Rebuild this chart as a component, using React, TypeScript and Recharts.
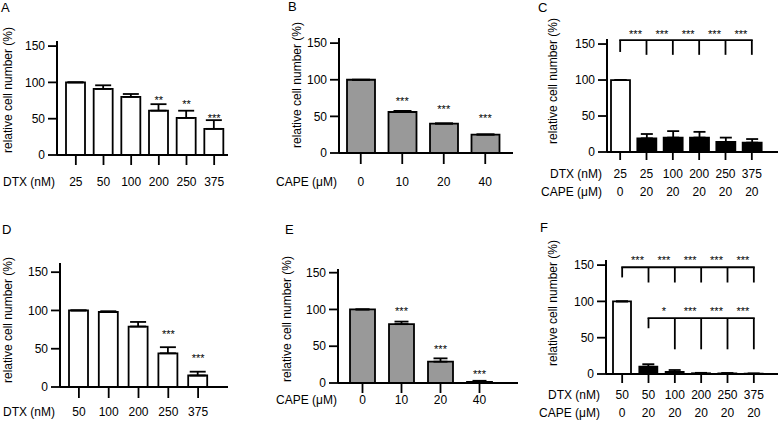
import {
	Bar,
	BarChart,
	Cell,
	ErrorBar,
	Label,
	ReferenceDot,
	ReferenceLine,
	XAxis,
	YAxis,
} from "recharts";

const FONT = '"Liberation Sans", Arial, Helvetica, sans-serif';

// A: DTX alone, first cell line
const dtxA = ["25", "50", "100", "200", "250", "375"];
const valuesA = [100, 91, 80, 61, 51, 36];
const errorsA = [0, 5, 4, 9, 10, 12];
const starsA = ["", "", "", "**", "**", "***"];
const starAtA = [0, 0, 0, 77, 72, 52.5];

// B: CAPE alone, first cell line
const capeB = ["0", "10", "20", "40"];
const valuesB = [100, 56, 40, 25];
const errorsB = [0, 1.5, 0.5, 0.5];
const starsB = ["", "***", "***", "***"];
const starAtB = [0, 72, 61, 49];

// C: DTX + CAPE 20, first cell line
const dtxC = ["25", "25", "100", "200", "250", "375"];
const capeC = ["0", "20", "20", "20", "20", "20"];
const valuesC = [100, 19, 20, 20, 14, 13];
const errorsC = [0, 6, 9, 8, 6, 5];
const bracketStarsC = ["***", "***", "***", "***", "***"];

// D: DTX alone, second cell line
const dtxD = ["50", "100", "200", "250", "375"];
const valuesD = [100, 98, 79, 44, 15];
const errorsD = [0, 1, 6, 8, 5];
const starsD = ["", "", "", "***", "***"];
const starAtD = [0, 0, 0, 71, 39.5];

// E: CAPE alone, second cell line
const capeE = ["0", "10", "20", "40"];
const valuesE = [100, 80, 29, 1.5];
const errorsE = [0, 3.5, 4.5, 1.5];
const starsE = ["", "***", "***", "***"];
const starAtE = [0, 99.6, 48, 13.6];

// F: DTX + CAPE 20, second cell line
const dtxF = ["50", "50", "100", "200", "250", "375"];
const capeF = ["0", "20", "20", "20", "20", "20"];
const valuesF = [100, 10, 3, 1, 0.8, 0.4];
const errorsF = [0, 3.5, 2.5, 0.6, 0.5, 0.3];
const bracketStarsF1 = ["***", "***", "***", "***", "***"];
const bracketStarsF2 = ["*", "***", "***", "***"];

const WHITE = "#ffffff";
const GREY = "#999999";
const BLACK = "#000000";

type Row = { name: string; labels: string[]; dy: number };
type Bracket = {
	from: number;
	to: number;
	level: number;
	firstDrop: number;
	drop: number;
	stars: string[];
	starLevel: number;
};

type PanelProps = {
	letter: string;
	letterX: number;
	letterY: number;
	left: number;
	top: number;
	width: number;
	height: number;
	axisX: number;
	plotTop: number;
	axisY: number;
	plotRight: number;
	yMax: number;
	padLeft: number;
	padRight: number;
	barSize: number;
	tickSize: number;
	capHalf: number;
	values: number[];
	errors: number[];
	fills: string[];
	stars?: string[];
	starAt?: number[];
	brackets?: Bracket[];
	rows: Row[];
	rowLabelEnd: number;
	yLabelX: number;
	yLabelY: number;
};

function makeTick(rows: Row[], tickSize: number, labelEnd: number) {
	return (props: any) => {
		const { x, y, index } = props;
		const axisY = y - tickSize - 2;
		return (
			<g>
				{rows.map((r) => (
					<text
						key={r.name}
						x={x}
						y={axisY + r.dy}
						textAnchor="middle"
						fontSize={12}
						fontFamily={FONT}
						fill="#000"
					>
						{r.labels[index]}
					</text>
				))}
				{index === 0 &&
					rows.map((r) => (
						<text
							key={`n-${r.name}`}
							x={labelEnd}
							y={axisY + r.dy}
							textAnchor="end"
							fontSize={12}
							fontFamily={FONT}
							fill="#000"
						>
							{r.name}
						</text>
					))}
			</g>
		);
	};
}

function starShape(text: string, shift = 0) {
	return (p: any) => (
		<text
			x={p.cx + shift}
			y={p.cy + 5}
			textAnchor="middle"
			fontSize={11}
			fontFamily={FONT}
			fill="#000"
		>
			{text}
		</text>
	);
}

function Panel(p: PanelProps) {
	const keys = p.values.map((_, i) => `k${i}`);
	const data = p.values.map((v, i) => ({
		key: keys[i],
		value: v,
		err: [0, p.errors[i]],
	}));
	const line = { stroke: "#000", strokeWidth: 1.8 };

	return (
		<>
			<div
				style={{
					position: "absolute",
					left: p.letterX,
					top: p.letterY,
					fontSize: 13,
					lineHeight: "13px",
					fontFamily: FONT,
					color: "#000",
				}}
			>
				{p.letter}
			</div>
			<div style={{ position: "absolute", left: p.left, top: p.top }}>
				<BarChart
					width={p.width}
					height={p.height}
					data={data}
					barSize={p.barSize}
					margin={{
						top: p.plotTop,
						left: p.axisX - 50,
						right: p.width - p.plotRight,
						bottom: 0,
					}}
				>
					<XAxis
						dataKey="key"
						type="category"
						interval={0}
						padding={{ left: p.padLeft, right: p.padRight }}
						height={p.height - p.axisY}
						tickSize={p.tickSize}
						tickMargin={2}
						axisLine={{ stroke: "#000", strokeWidth: 2 }}
						tickLine={line}
						tick={makeTick(p.rows, p.tickSize, p.rowLabelEnd)}
					/>
					<YAxis
						type="number"
						domain={[0, p.yMax]}
						ticks={[0, 50, 100, 150]}
						allowDataOverflow
						width={50}
						tickSize={9}
						tickMargin={3}
						axisLine={{ stroke: "#000", strokeWidth: 2 }}
						tickLine={line}
						tick={{ fontSize: 12, fill: "#000", fontFamily: FONT }}
					>
						<Label
							content={() => (
								<text
									transform={`translate(${p.yLabelX},${p.yLabelY}) rotate(-90)`}
									textAnchor="middle"
									dominantBaseline="central"
									fontSize={12}
									fontFamily={FONT}
									fill="#000"
								>
									relative cell number (%)
								</text>
							)}
						/>
					</YAxis>
					<Bar
						dataKey="value"
						stroke="#000"
						strokeWidth={1.8}
						isAnimationActive={false}
					>
						{data.map((d, i) => (
							<Cell key={d.key} fill={p.fills[i]} />
						))}
						<ErrorBar
							dataKey="err"
							direction="y"
							width={p.capHalf}
							stroke="#000"
							strokeWidth={1.8}
							isAnimationActive={false}
						/>
					</Bar>
					{(p.stars ?? []).map((s, i) =>
						s ? (
							<ReferenceDot
								key={`s${i}`}
								x={keys[i]}
								y={p.starAt![i]}
								r={1}
								ifOverflow="visible"
								shape={starShape(s)}
							/>
						) : null,
					)}
					{(p.brackets ?? []).flatMap((b, bi) => {
						const out = [
							<ReferenceLine
								key={`h${bi}`}
								segment={[
									{ x: keys[b.from], y: b.level },
									{ x: keys[b.to], y: b.level },
								]}
								stroke="#000"
								strokeWidth={1.8}
								strokeLinecap="square"
								ifOverflow="visible"
							/>,
						];
						for (let j = b.from; j <= b.to; j++) {
							out.push(
								<ReferenceLine
									key={`v${bi}-${j}`}
									segment={[
										{ x: keys[j], y: b.level },
										{ x: keys[j], y: j === b.from ? b.firstDrop : b.drop },
									]}
									stroke="#000"
									strokeWidth={1.8}
									ifOverflow="visible"
								/>,
							);
						}
						b.stars.forEach((s, k) => {
							out.push(
								<ReferenceDot
									key={`bs${bi}-${k}`}
									x={keys[b.from + k + 1]}
									y={b.starLevel}
									r={1}
									ifOverflow="visible"
									shape={starShape(s, -11)}
								/>,
							);
						});
						return out;
					})}
				</BarChart>
			</div>
		</>
	);
}

export default function App() {
	return (
		<div
			style={{
				position: "absolute",
				left: 0,
				top: 0,
				width: 784,
				height: 421,
				background: "#fff",
				overflow: "hidden",
			}}
		>
			<Panel
				letter="A"
				letterX={1}
				letterY={1}
				left={0}
				top={0}
				width={240}
				height={200}
				axisX={57}
				plotTop={41}
				axisY={155}
				plotRight={228}
				yMax={157}
				padLeft={5}
				padRight={0}
				barSize={19}
				tickSize={10}
				capHalf={8}
				values={valuesA}
				errors={errorsA}
				fills={valuesA.map(() => WHITE)}
				stars={starsA}
				starAt={starAtA}
				rows={[{ name: "DTX (nM)", labels: dtxA, dy: 31 }]}
				rowLabelEnd={55}
				yLabelX={8}
				yLabelY={90}
			/>
			<Panel
				letter="B"
				letterX={288}
				letterY={0}
				left={250}
				top={0}
				width={270}
				height={200}
				axisX={89}
				plotTop={38}
				axisY={153}
				plotRight={263}
				yMax={157}
				padLeft={1}
				padRight={7}
				barSize={28}
				tickSize={11}
				capHalf={9}
				values={valuesB}
				errors={errorsB}
				fills={valuesB.map(() => GREY)}
				stars={starsB}
				starAt={starAtB}
				rows={[{ name: "CAPE (μM)", labels: capeB, dy: 33 }]}
				rowLabelEnd={87}
				yLabelX={47}
				yLabelY={85}
			/>
			<Panel
				letter="C"
				letterX={538}
				letterY={1}
				left={500}
				top={0}
				width={284}
				height={210}
				axisX={107}
				plotTop={39}
				axisY={152}
				plotRight={278}
				yMax={157}
				padLeft={0}
				padRight={13}
				barSize={19}
				tickSize={8}
				capHalf={6}
				values={valuesC}
				errors={errorsC}
				fills={valuesC.map((_, i) => (i === 0 ? WHITE : BLACK))}
				brackets={[
					{
						from: 0,
						to: 5,
						level: 155.5,
						firstDrop: 139,
						drop: 135,
						stars: bracketStarsC,
						starLevel: 165,
					},
				]}
				rows={[
					{ name: "DTX (nM)", labels: dtxC, dy: 26 },
					{ name: "CAPE (μM)", labels: capeC, dy: 44 },
				]}
				rowLabelEnd={102}
				yLabelX={53}
				yLabelY={81}
			/>
			<Panel
				letter="D"
				letterX={2}
				letterY={223}
				left={0}
				top={210}
				width={240}
				height={211}
				axisX={60}
				plotTop={53}
				axisY={177}
				plotRight={228}
				yMax={162}
				padLeft={4}
				padRight={15}
				barSize={19}
				tickSize={11}
				capHalf={8}
				values={valuesD}
				errors={errorsD}
				fills={valuesD.map(() => WHITE)}
				stars={starsD}
				starAt={starAtD}
				rows={[{ name: "DTX (nM)", labels: dtxD, dy: 29 }]}
				rowLabelEnd={55}
				yLabelX={8}
				yLabelY={110}
			/>
			<Panel
				letter="E"
				letterX={285}
				letterY={223}
				left={250}
				top={210}
				width={270}
				height={211}
				axisX={88}
				plotTop={59}
				axisY={173}
				plotRight={268}
				yMax={155}
				padLeft={5}
				padRight={19}
				barSize={25}
				tickSize={10}
				capHalf={7}
				values={valuesE}
				errors={errorsE}
				fills={valuesE.map(() => GREY)}
				stars={starsE}
				starAt={starAtE}
				rows={[{ name: "CAPE (μM)", labels: capeE, dy: 21 }]}
				rowLabelEnd={87}
				yLabelX={37}
				yLabelY={109}
			/>
			<Panel
				letter="F"
				letterX={540}
				letterY={221}
				left={500}
				top={210}
				width={284}
				height={211}
				axisX={106}
				plotTop={50}
				axisY={164}
				plotRight={278}
				yMax={157}
				padLeft={3}
				padRight={11}
				barSize={18}
				tickSize={9}
				capHalf={6}
				values={valuesF}
				errors={errorsF}
				fills={valuesF.map((_, i) => (i === 0 ? WHITE : BLACK))}
				brackets={[
					{
						from: 0,
						to: 5,
						level: 147,
						firstDrop: 133,
						drop: 126,
						stars: bracketStarsF1,
						starLevel: 158,
					},
					{
						from: 1,
						to: 5,
						level: 77,
						firstDrop: 63,
						drop: 34,
						stars: bracketStarsF2,
						starLevel: 88,
					},
				]}
				rows={[
					{ name: "DTX (nM)", labels: dtxF, dy: 25 },
					{ name: "CAPE (μM)", labels: capeF, dy: 43 },
				]}
				rowLabelEnd={100}
				yLabelX={53}
				yLabelY={93}
			/>
		</div>
	);
}
